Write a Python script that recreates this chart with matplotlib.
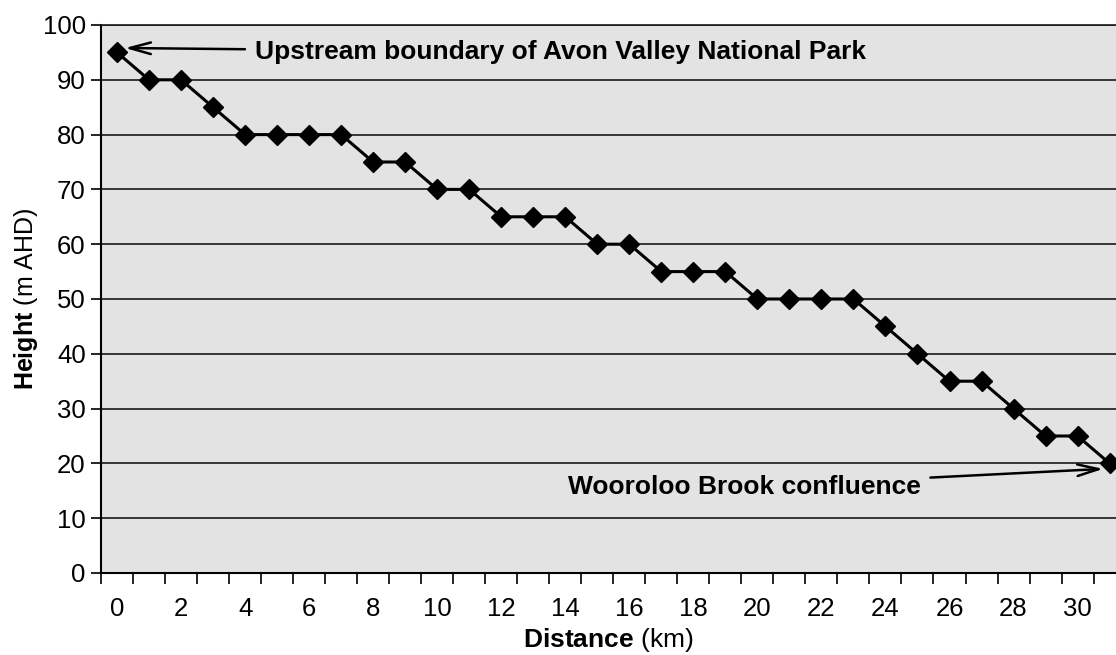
import numpy as np
import matplotlib
matplotlib.use('Agg')
import matplotlib.pyplot as plt
from matplotlib.ticker import FixedLocator

plt.rcParams['font.family'] = ['Liberation Sans', 'DejaVu Sans']
plt.rcParams['mathtext.fontset'] = 'custom'
plt.rcParams['mathtext.rm'] = 'Liberation Sans'
plt.rcParams['mathtext.bf'] = 'Liberation Sans:bold'

# river long profile: distance (km) vs height (m AHD)
distance = list(range(32))
height = [95, 90, 90, 85, 80, 80, 80, 80, 75, 75, 70, 70, 65, 65, 65, 60,
          60, 55, 55, 55, 50, 50, 50, 50, 45, 40, 35, 35, 30, 25, 25, 20]
tick_labels = [str(v) for v in range(0, 31, 2)]

BG = '#E3E3E3'

fig = plt.figure(figsize=(11.16, 6.55), dpi=100)
ax = fig.add_axes([101 / 1116, 82 / 655, 1 - 101 / 1116, 548 / 655])
ax.set_facecolor(BG)

ax.plot(distance, height, color='black', lw=2.2, marker='D', markersize=10,
        zorder=3, clip_on=False)

ax.set_xlim(-0.5, 31.2)
ax.set_ylim(0, 100)
ax.set_yticks(np.arange(0, 101, 10))
ax.yaxis.grid(True, color='#1a1a1a', lw=1.2)
ax.set_axisbelow(True)

ax.set_xticks(range(0, 31, 2))
ax.set_xticklabels(tick_labels)
ax.xaxis.set_minor_locator(FixedLocator(np.arange(-0.5, 31, 1)))
ax.tick_params(axis='x', which='major', length=0, pad=17, labelsize=18.5)
ax.tick_params(axis='x', which='minor', length=8, width=1.2, direction='out')
ax.tick_params(axis='y', length=7, width=1.2, direction='out', pad=4, labelsize=18.5)

for s in ['left', 'bottom']:
    ax.spines[s].set_linewidth(1.5)
    ax.spines[s].set_color('black')
ax.spines['top'].set_color('#1a1a1a')
ax.spines['top'].set_linewidth(1.2)
ax.spines['right'].set_visible(False)

ax.set_xlabel(r'$\bf{Distance}$ (km)', fontsize=19, labelpad=4)
ax.set_ylabel(r'$\bf{Height}$ (m AHD)', fontsize=18, labelpad=2)

arrow = dict(arrowstyle='->, head_length=0.8, head_width=0.22', color='black',
             lw=1.8, shrinkA=5, shrinkB=0)
ax.annotate('Upstream boundary of Avon Valley National Park',
            xy=(0.25, 95.8), xytext=(4.3, 95.0), ha='left', va='center',
            fontsize=19, fontweight='bold', arrowprops=arrow)
ax.annotate('Wooroloo Brook confluence',
            xy=(30.8, 19.0), xytext=(25.1, 15.7), ha='right', va='center',
            fontsize=19, fontweight='bold', arrowprops=arrow)

fig.savefig('out.png', dpi=100)
